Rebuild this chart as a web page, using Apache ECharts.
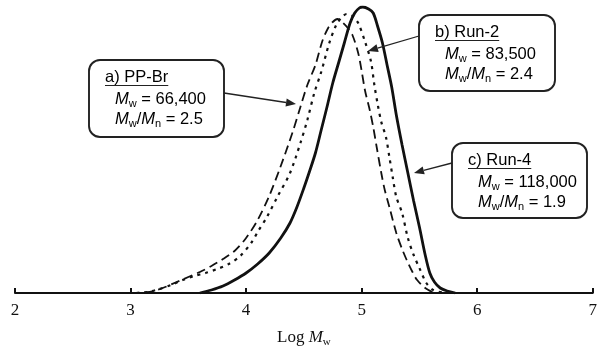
<!DOCTYPE html>
<html><head><meta charset="utf-8">
<script src="https://cdn.jsdelivr.net/npm/echarts@6/dist/echarts.min.js"></script>
<style>html,body{margin:0;padding:0;background:#fff}#c{width:600px;height:353px}</style>
</head><body><div id="c"></div>
<script>
// Log Mw ticks
const xTicks = [2, 3, 4, 5, 6, 7];
// a) PP-Br (long dashed)  [log Mw, relative height]
const ppBrX = [3.00,3.10,3.20,3.30,3.40,3.50,3.60,3.70,3.80,3.90,4.00,4.10,4.20,4.30,4.40,4.47,4.53,4.60,4.66,4.71,4.75,4.79,4.83,4.88,4.92,4.97,5.00,5.03,5.07,5.10,5.13,5.17,5.20,5.24,5.30,5.35,5.39,5.44,5.48,5.55,5.63];
const ppBrY = [0,0.5,2,6,11,16,21,27,34,42,55,73,97,127,160,186,208,228,252,265,271,274,271,265,258,240,222,202,183,166,146,120,103,86,60,44,33,21,13,5,0];
// b) Run-2 (dotted)
const run2X = [3.05,3.15,3.25,3.35,3.45,3.55,3.65,3.75,3.85,3.95,4.05,4.10,4.18,4.27,4.38,4.47,4.53,4.59,4.65,4.72,4.78,4.83,4.87,4.92,4.97,5.03,5.08,5.11,5.14,5.17,5.21,5.24,5.27,5.30,5.35,5.40,5.45,5.50,5.56,5.62,5.72];
const run2Y = [0,1,4,8,13,17,20,24,29,37,51,61,76,96,120,150,173,200,221,250,268,276,279,277,270,251,232,208,188,171,156,136,115,96,80,55,38,25,10,3,0];
// c) Run-4 (solid)
const run4X = [3.60,3.70,3.80,3.90,4.00,4.10,4.20,4.30,4.38,4.44,4.50,4.55,4.60,4.65,4.70,4.75,4.80,4.85,4.90,4.94,4.98,5.01,5.06,5.10,5.14,5.18,5.22,5.26,5.30,5.35,5.40,5.45,5.50,5.55,5.59,5.63,5.68,5.74,5.81];
const run4Y = [0,3,7,13,20,29,40,55,70,86,105,122,140,163,186,210,230,250,270,280,285,286,284,280,266,250,228,206,178,148,120,92,66,38,20,11,5,2,0];

const zip = (xs, ys) => xs.map((x, i) => [x, ys[i]]);

const chart = echarts.init(document.getElementById('c'), null, {renderer: 'canvas'});

const FS = 16.5;
const rich = {
  t: {fontFamily: 'Liberation Sans', fontSize: FS, color: '#222'},
  i: {fontFamily: 'Liberation Sans', fontSize: FS, fontStyle: 'italic', color: '#222'},
  s: {fontFamily: 'Liberation Sans', fontSize: 11, color: '#222', padding: [9, 0, 0, 0]}
};
const mctx = document.createElement('canvas').getContext('2d');
mctx.font = FS + 'px "Liberation Sans"';

function box(x, y, w, h, title, mw, pdi) {
  const tw = mctx.measureText(title).width;
  return [
    {type: 'rect', shape: {x: x, y: y, width: w, height: h, r: 11}, style: {fill: '#fff', stroke: '#222', lineWidth: 1.9}, z: 10},
    {type: 'text', x: x + 16, y: y + 9, z: 11, style: {text: '{t|' + title + '}', rich: rich}},
    {type: 'line', shape: {x1: x + 16, y1: y + 25.5, x2: x + 16 + tw, y2: y + 25.5}, style: {stroke: '#222', lineWidth: 1.1}, z: 11},
    {type: 'text', x: x + 26, y: y + 29, z: 11, style: {text: '{i|M}{s|w}{t| = ' + mw + '}', rich: rich}},
    {type: 'text', x: x + 26, y: y + 49, z: 11, style: {text: '{i|M}{s|w}{t|/}{i|M}{s|n}{t| = ' + pdi + '}', rich: rich}}
  ];
}
function arrow(x1, y1, x2, y2) {
  const a = Math.atan2(y2 - y1, x2 - x1), L = 10, W = 4;
  const bx = x2 - L * Math.cos(a), by = y2 - L * Math.sin(a);
  const px = -Math.sin(a) * W, py = Math.cos(a) * W;
  return [
    {type: 'line', shape: {x1: x1, y1: y1, x2: bx, y2: by}, style: {stroke: '#222', lineWidth: 1.3}, z: 12},
    {type: 'polygon', shape: {points: [[x2, y2], [bx + px, by + py], [bx - px, by - py]]}, style: {fill: '#222'}, z: 12}
  ];
}

chart.setOption({
  animation: false,
  backgroundColor: '#fff',
  grid: {left: 15, right: 7, top: 7, bottom: 60, containLabel: false},
  xAxis: {
    type: 'value', min: 2, max: 7, interval: 1,
    axisLine: {show: true, lineStyle: {color: '#111', width: 2}},
    axisTick: {show: true, inside: true, length: 5, lineStyle: {color: '#111', width: 2}},
    axisLabel: {color: '#111', fontFamily: 'Liberation Serif', fontSize: 17, margin: 9},
    splitLine: {show: false},
    name: '{l|Log }{m|M}{w|w}',
    nameLocation: 'middle', nameGap: 35,
    nameTextStyle: {
      rich: {
        l: {fontFamily: 'Liberation Serif', fontSize: 17, color: '#111'},
        m: {fontFamily: 'Liberation Serif', fontSize: 17, fontStyle: 'italic', color: '#111'},
        w: {fontFamily: 'Liberation Serif', fontSize: 11, color: '#111', padding: [9, 0, 0, 0]}
      }
    }
  },
  yAxis: {type: 'value', min: 0, max: 286, show: false, splitLine: {show: false}},
  series: [
    {name: 'a) PP-Br', type: 'line', data: zip(ppBrX, ppBrY), showSymbol: false, smooth: 0.3,
     lineStyle: {color: '#111', width: 1.8, type: [9, 5]}, z: 3},
    {name: 'b) Run-2', type: 'line', data: zip(run2X, run2Y), showSymbol: false, smooth: 0.3,
     lineStyle: {color: '#111', width: 2.2, type: [3, 5]}, z: 3},
    {name: 'c) Run-4', type: 'line', data: zip(run4X, run4Y), showSymbol: false, smooth: 0.3,
     lineStyle: {color: '#111', width: 2.8}, z: 4}
  ],
  graphic: [].concat(
    box(89, 60, 135, 77, 'a) PP-Br', '66,400', '2.5'),
    arrow(224, 93, 296, 104),
    box(419, 15, 136, 76, 'b) Run-2', '83,500', '2.4'),
    arrow(419, 36, 368, 51),
    box(452, 143, 135, 75, 'c) Run-4', '118,000', '1.9'),
    arrow(452, 163, 414, 173)
  )
});
</script></body></html>
